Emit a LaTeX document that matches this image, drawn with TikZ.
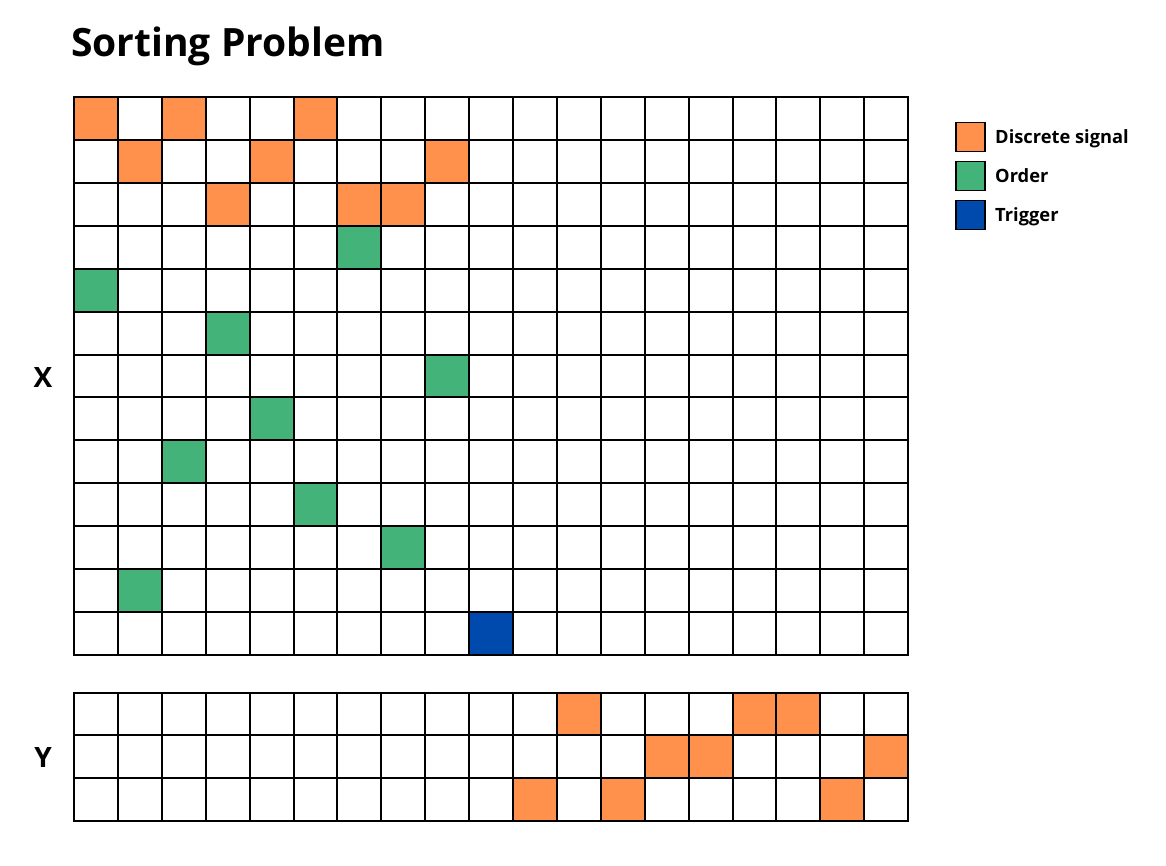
\documentclass[tikz,border=0pt]{standalone}
\usepackage{fontspec}
\setmainfont{Open Sans}
\definecolor{sig}{HTML}{FF914D}
\definecolor{ord}{HTML}{43B37A}
\definecolor{trg}{HTML}{004AAD}
\begin{document}
\begin{tikzpicture}[x=1pt,y=-1pt,
  gridline/.style={line width=2pt,black},
  legbox/.style={draw=black,line width=1.6pt,minimum width=29pt,minimum height=29pt,inner sep=0pt},
  legtext/.style={anchor=base west,font=\fontsize{18.3}{20}\selectfont\bfseries,inner sep=0pt},
  axlabel/.style={font=\fontsize{28}{30}\selectfont\bfseries,inner sep=0pt}]
\useasboundingbox[fill=white] (0,0) rectangle (1166,866);
\def\cw{43.9}
\def\chx{42.92}
\def\chy{42.83}
% X grid fills
\foreach \c/\r in {0/0,2/0,5/0,1/1,4/1,8/1,3/2,6/2,7/2}
  \fill[sig] (74+\c*\cw,97+\r*\chx) rectangle ++(\cw,\chx);
\foreach \c/\r in {6/3,0/4,3/5,8/6,4/7,2/8,5/9,7/10,1/11}
  \fill[ord] (74+\c*\cw,97+\r*\chx) rectangle ++(\cw,\chx);
\fill[trg] (74+9*\cw,97+12*\chx) rectangle ++(\cw,\chx);
% Y grid fills
\foreach \c/\r in {11/0,15/0,16/0,13/1,14/1,18/1,10/2,12/2,17/2}
  \fill[sig] (74+\c*\cw,692.5+\r*\chy) rectangle ++(\cw,\chy);
% X grid lines
\foreach \i in {0,...,19}
  \draw[gridline] (74+\i*\cw,97) -- (74+\i*\cw,655);
\foreach \j in {0,...,13}
  \draw[gridline] (73,97+\j*\chx) -- (909,97+\j*\chx);
% Y grid lines
\foreach \i in {0,...,19}
  \draw[gridline] (74+\i*\cw,692.5) -- (74+\i*\cw,821);
\foreach \j in {0,...,3}
  \draw[gridline] (73,692.5+\j*\chy) -- (909,692.5+\j*\chy);
% title
\node[anchor=base west,inner sep=0pt,font=\fontsize{39}{43}\selectfont\bfseries] (title) at (71,57) {Sorting Problem};
% axis labels
\node[axlabel] (xl) at (43,378) {X};
\node[axlabel] (yl) at (43,757) {Y};
% legend
\node[legbox,fill=sig] (l1) at (970.5,137) {};
\node[legbox,fill=ord] (l2) at (970.5,176) {};
\node[legbox,fill=trg] (l3) at (970.5,215) {};
\node[legtext] (t1) at (995,143.5) {Discrete signal};
\node[legtext] (t2) at (995,182.5) {Order};
\node[legtext] (t3) at (995,221.5) {Trigger};
\end{tikzpicture}
\end{document}
